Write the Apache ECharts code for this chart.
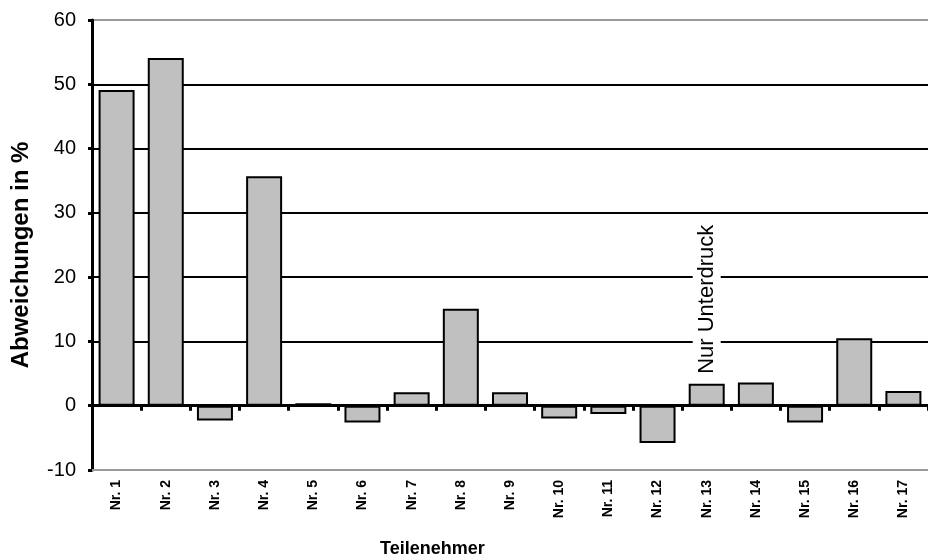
<!DOCTYPE html>
<html>
<head>
<meta charset="utf-8">
<script src="https://cdn.jsdelivr.net/npm/echarts@6/dist/echarts.min.js"></script>
<style>
  html, body { margin: 0; padding: 0; background: #fff; }
  #chart { width: 928px; height: 557px; }
</style>
</head>
<body>
<div id="chart"></div>
<script>
// Participants and their deviation in percent
const categories = ['Nr. 1', 'Nr. 2', 'Nr. 3', 'Nr. 4', 'Nr. 5', 'Nr. 6', 'Nr. 7', 'Nr. 8', 'Nr. 9',
  'Nr. 10', 'Nr. 11', 'Nr. 12', 'Nr. 13', 'Nr. 14', 'Nr. 15', 'Nr. 16', 'Nr. 17'];
const deviations = [49.1, 54.1, -2.3, 35.7, 0.4, -2.6, 2.1, 15.1, 2.1,
  -2.0, -1.3, -5.8, 3.4, 3.6, -2.6, 10.5, 2.3];
// Participant that only measured underpressure
const noteIndex = 12;
const noteText = 'Nur Unterdruck';

const yTicks = { min: -10, max: 60, step: 10 };

const FONT = "'Liberation Sans', Arial, sans-serif";

const barData = deviations.map((v, i) => {
  if (i !== noteIndex) return v;
  return {
    value: v,
    label: {
      show: true,
      position: 'top',
      distance: 7,
      rotate: 90,
      align: 'left',
      verticalAlign: 'middle',
      formatter: noteText,
      fontFamily: FONT,
      fontSize: 22,
      color: '#000',
      backgroundColor: '#fff',
      padding: [3, 3]
    }
  };
});

const chart = echarts.init(document.getElementById('chart'), null, { renderer: 'canvas' });
chart.setOption({
  animation: false,
  backgroundColor: '#fff',
  grid: { left: 92, top: 20, width: 845, height: 450, containLabel: false },
  title: {
    text: 'Teilenehmer',
    left: 375,
    top: 535,
    textStyle: { fontFamily: FONT, fontSize: 18, fontWeight: 'bold', color: '#000' }
  },
  xAxis: [
    {
      // labels along the lower border of the plot
      type: 'category',
      data: categories,
      position: 'bottom',
      axisLine: { onZero: false, lineStyle: { color: '#9a9a9a', width: 2 } },
      axisTick: { show: false },
      axisLabel: {
        rotate: 90,
        margin: 10,
        fontFamily: FONT,
        fontSize: 14,
        fontWeight: 'bold',
        color: '#000'
      },
      splitLine: { show: false }
    },
    {
      // baseline at zero with tick marks between participants
      type: 'category',
      data: categories,
      position: 'bottom',
      axisLine: { onZero: true, lineStyle: { color: '#000', width: 3 } },
      axisTick: { show: true, length: 5, lineStyle: { color: '#000', width: 3 } },
      axisLabel: { show: false },
      splitLine: { show: false }
    }
  ],
  yAxis: {
    type: 'value',
    min: yTicks.min,
    max: yTicks.max,
    interval: yTicks.step,
    name: 'Abweichungen in %',
    nameLocation: 'middle',
    nameGap: 59,
    nameTextStyle: {
      fontFamily: FONT,
      fontSize: 24,
      fontWeight: 'bold',
      color: '#000',
      padding: [0, 20, 0, 0]
    },
    axisLine: { show: true, lineStyle: { color: '#000', width: 3 } },
    axisTick: { show: true, length: 4, lineStyle: { color: '#000', width: 3 } },
    axisLabel: { margin: 16, fontFamily: FONT, fontSize: 20, color: '#000' },
    splitLine: {
      show: true,
      lineStyle: {
        color: ['#9a9a9a', '#000', '#000', '#000', '#000', '#000', '#000', '#9a9a9a'],
        width: 2
      }
    }
  },
  series: [{
    type: 'bar',
    xAxisIndex: 0,
    data: barData,
    barWidth: 36,
    itemStyle: { color: '#c0c0c0', borderColor: '#000', borderWidth: 2 },
    z: 3
  }]
});
</script>
</body>
</html>
